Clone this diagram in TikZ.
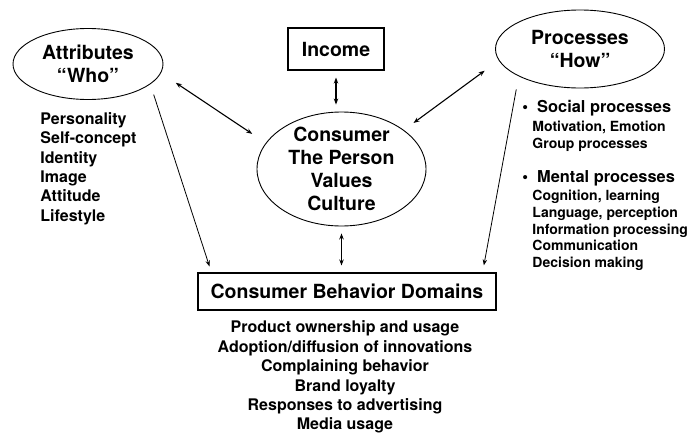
\documentclass[tikz,border=0pt]{standalone}
\usepackage{fontspec}
\setmainfont{TeX Gyre Heros}
\usetikzlibrary{shapes.geometric, arrows.meta}

\newcommand\titlesize{\fontsize{19.5}{23}\selectfont}
\newcommand\listsize{\fontsize{16}{19.4}\selectfont}
\newcommand\headsize{\fontsize{16.4}{19}\selectfont}
\newcommand\itemsize{\fontsize{14}{16.7}\selectfont}

\begin{document}
\begin{tikzpicture}[x=1pt, y=-1pt, font=\bfseries, line width=0.9pt,
  oval/.style={draw, ellipse, inner sep=0pt, inner ysep=-12pt, align=center, font=\bfseries\titlesize},
  box/.style={draw, rectangle, inner sep=0pt, line width=1.1pt, align=center, font=\bfseries\titlesize},
  listtext/.style={inner sep=0pt, align=left, font=\bfseries\listsize},
  headtext/.style={inner sep=0pt, font=\bfseries\headsize},
  itemtext/.style={inner sep=0pt, align=left, font=\bfseries\itemsize},
  dbl/.style={{Stealth[length=6pt,width=4.5pt]}-{Stealth[length=6pt,width=4.5pt]}, line width=1.1pt},
  sgl/.style={-{Stealth[length=6pt,width=4.5pt]}, line width=0.8pt}]
\useasboundingbox (0,0) rectangle (691,434);

% the four main blocks
\node[oval, minimum width=150pt, minimum height=71pt] (attr) at (88,64) {Attributes\\“Who”};
\node[box, minimum width=96pt, minimum height=42pt] (income) at (336,49) {Income};
\node[oval, minimum width=169pt, minimum height=114pt] (cons) at (341.5,169) {Consumer\\The Person\\Values\\Culture};
\node[oval, minimum width=169pt, minimum height=78pt] (proc) at (580,49) {Processes\\“How”};
\node[box, minimum width=298pt, minimum height=37pt] (dom) at (347,291.5) {Consumer Behavior Domains};

% lists under the blocks
\node[listtext, anchor=north west] (who) at (40,112) {Personality\\Self-concept\\Identity\\Image\\Attitude\\Lifestyle};
\node[listtext, anchor=north, align=center] (domlist) at (345,320.5) {Product ownership and usage\\Adoption/diffusion of innovations\\Complaining behavior\\Brand loyalty\\Responses to advertising\\Media usage};
\node[headtext, anchor=base west] (social) at (522,112.5) {\textbullet\hspace{9pt}Social processes};
\node[itemtext, anchor=north west] (socialitems) at (532,121) {Motivation, Emotion\\Group processes};
\node[headtext, anchor=base west] (mental) at (522,182.5) {\textbullet\hspace{9pt}Mental processes};
\node[itemtext, anchor=north west] (mentalitems) at (532,190) {Cognition, learning\\Language, perception\\Information processing\\Communication\\Decision making};

% links
\draw[dbl, shorten <=17.7pt, shorten >=16.3pt] (attr.-7.2) -- (cons.161.9);
\draw[dbl, shorten <=7pt, shorten >=7pt] (income.south) -- (income.south |- cons.north);
\draw[dbl, shorten <=11.9pt, shorten >=17.4pt] (cons.32.1) -- (proc.-172.5);
\draw[dbl, shorten <=7pt, shorten >=7pt] (cons.south) -- (cons.south |- dom.north);
\draw[sgl, shorten <=10.8pt, shorten >=6.3pt] (attr.-18.8) -- (dom.172.6);
\draw[sgl, shorten <=13.3pt, shorten >=7.2pt] (proc.-156.8) -- (dom.8.8);
\end{tikzpicture}
\end{document}
